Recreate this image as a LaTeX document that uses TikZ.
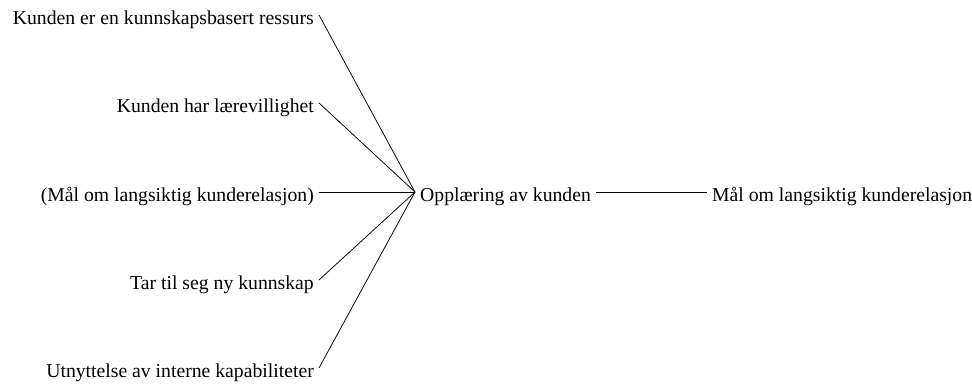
\documentclass[tikz,border=0pt]{standalone}
\usepackage{fontspec}
\setmainfont{Liberation Serif}
\begin{document}
\begin{tikzpicture}[x=1pt,y=-1pt,
  lbl/.style={inner xsep=5pt, inner ysep=0pt, text height=18pt, text depth=0pt,
              font=\fontsize{19.7pt}{22pt}\selectfont},
  link/.style={draw=black, line width=0.75pt}]
  \useasboundingbox (0,0) rectangle (972,383);
  % causes, right-aligned on the left
  \node[lbl, anchor=east] (k1) at (319,15)  {Kunden er en kunnskapsbasert ressurs};
  \node[lbl, anchor=east] (k2) at (319,103) {Kunden har lærevillighet};
  \node[lbl, anchor=east] (k3) at (319,192) {(Mål om langsiktig kunderelasjon)};
  \node[lbl, anchor=east] (k4) at (319,280) {Tar til seg ny kunnskap};
  \node[lbl, anchor=east] (k5) at (319,368) {Utnyttelse av interne kapabiliteter};
  % central activity and its outcome
  \node[lbl, anchor=west] (opp) at (415,192) {Opplæring av kunden};
  \node[lbl, anchor=west] (maal) at (707,192) {Mål om langsiktig kunderelasjon};
  % connectors
  \foreach \n in {k1,k2,k3,k4,k5}
    \draw[link] (\n.east) -- (opp.west);
  \draw[link] (opp.east) -- (maal.west);
\end{tikzpicture}
\end{document}
